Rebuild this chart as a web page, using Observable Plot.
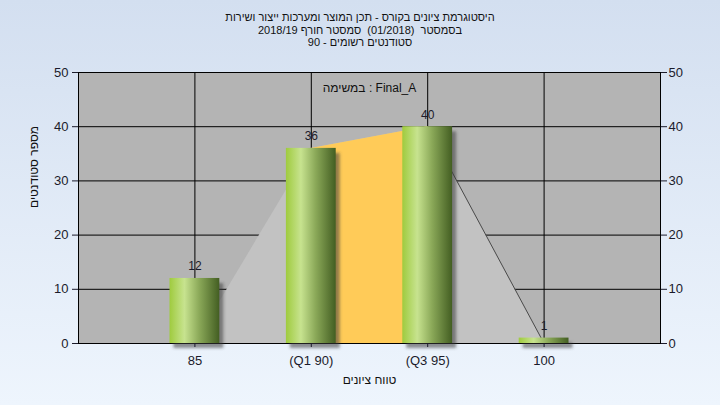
<!DOCTYPE html>
<html>
<head>
<meta charset="utf-8">
<script src="https://cdn.jsdelivr.net/npm/d3@7"></script>
<script src="https://cdn.jsdelivr.net/npm/@observablehq/plot@0.6"></script>
<style>
html, body { margin: 0; padding: 0; }
body {
  width: 720px; height: 405px; overflow: hidden;
  background: linear-gradient(#d3dff0, #eef5fd);
  font-family: "Liberation Sans", Arial, "DejaVu Sans", sans-serif;
}
#title {
  box-sizing: border-box; height: 50px; padding-top: 11px;
  text-align: center; font-size: 11px; line-height: 12.5px; color: #111;
  white-space: pre;
}
#chart svg { display: block; }
</style>
</head>
<body>
<div id="title"></div>
<div id="chart"></div>
<script>
// ---- data ----
const titleLines = [
  "היסטוגרמת ציונים בקורס - תכן המוצר ומערכות ייצור ושירות",
  "בסמסטר  (01/2018)  סמסטר חורף 2018/19",
  "סטודנטים רשומים - 90"
];
const grades = [85, 90, 95, 100];
const gradeLabels = ["85", "(Q1 90)", "(Q3 95)", "100"];
const counts = [12, 36, 40, 1];
const outlineCounts = [0, 36, 40, 0];   // envelope drawn behind the bars
const quartileGrades = [90, 95];        // highlighted interquartile band
const yTicks = [0, 10, 20, 30, 40, 50];
const taskNote = "במשימה : Final_A";
const xTitle = "טווח ציונים";
const yTitle = "מספר סטודנטים";

// ---- tables ----
const bars = grades.map((g, i) => ({grade: g, count: counts[i]}));
const outline = grades.map((g, i) => ({grade: g, count: outlineCounts[i]}));
const band = outline.filter(d => d.grade >= quartileGrades[0] && d.grade <= quartileGrades[1]);
const tail = outline.filter(d => d.grade >= quartileGrades[1]);
const labelOf = new Map(grades.map((g, i) => [g, gradeLabels[i]]));

document.getElementById("title").innerHTML =
  titleLines.map(t => `<div>${t}</div>`).join("");

const hw = 1.07;
const font = "Liberation Sans, Arial, DejaVu Sans, sans-serif";
const ink = "#1b1b2b";

const plot = Plot.plot({
  width: 720, height: 355,
  marginTop: 22, marginBottom: 62, marginLeft: 78, marginRight: 60,
  style: {background: "transparent", fontFamily: font, fontSize: "13px", color: ink, overflow: "visible"},
  x: {type: "linear", domain: [80, 105], axis: null},
  y: {domain: [0, 50], axis: null},
  marks: [
    Plot.frame({fill: "#b4b4b4", stroke: null}),
    Plot.ruleY(yTicks, {stroke: "#000", strokeWidth: 1}),
    Plot.ruleX(grades, {stroke: "#000", strokeWidth: 1}),
    Plot.areaY(outline, {x: "grade", y: "count", fill: "#c2c2c2"}),
    Plot.areaY(band, {x: "grade", y: "count", fill: "#ffcb58"}),
    Plot.line(tail, {x: "grade", y: "count", stroke: "#4a4a4a", strokeWidth: 1}),
    Plot.ruleY([0], {stroke: "#000", strokeWidth: 1}),
    Plot.frame({stroke: "#000", strokeWidth: 1}),
    Plot.rectY(bars, {x1: d => d.grade - hw, x2: d => d.grade + hw, y: "count", fill: "#000001", dx: 4, dy: 5}),
    Plot.rectY(bars, {x1: d => d.grade - hw, x2: d => d.grade + hw, y: "count", fill: "url(#barGrad)"}),
    Plot.text(bars, {x: "grade", y: "count", text: d => String(d.count), dy: -12, fill: ink, fontSize: 12}),
    Plot.axisY({anchor: "left", ticks: yTicks, tickSize: 6, tickPadding: 4, label: null, fill: ink, fontSize: 13}),
    Plot.axisY({anchor: "right", ticks: yTicks, tickSize: 6, tickPadding: 2, label: null, fill: ink, fontSize: 13}),
    Plot.axisX({ticks: grades, tickFormat: d => labelOf.get(d), tickSize: 4, tickPadding: 8, label: null, fill: ink, fontSize: 13}),
    Plot.text([yTitle], {text: d => d, frameAnchor: "left", dx: -44, rotate: -90, fontSize: 12, fill: "#111"}),
    Plot.text([xTitle], {text: d => d, frameAnchor: "bottom", dy: 40, fontSize: 12, fill: "#111"}),
    Plot.text([taskNote], {text: d => d, frameAnchor: "top", dy: 11, fontSize: 12, fill: "#111"})
  ]
});

const svg = d3.select(plot);
const defs = svg.insert("defs", ":first-child");
const lg = defs.append("linearGradient").attr("id", "barGrad")
  .attr("x1", 0).attr("x2", 1).attr("y1", 0).attr("y2", 0);
[[0, "#9fcb3e"], [0.3, "#c7e38f"], [0.6, "#8aa858"], [1, "#435e22"]].forEach(([o, c]) =>
  lg.append("stop").attr("offset", o).attr("stop-color", c));
defs.append("filter").attr("id", "blur").attr("x", "-50%").attr("y", "-50%").attr("width", "200%").attr("height", "200%")
  .append("feGaussianBlur").attr("stdDeviation", 1.6);
svg.selectAll("g").filter(function() { return this.getAttribute("fill") === "#000001"; })
  .attr("fill", "#3a3a3a").attr("fill-opacity", 0.55).attr("filter", "url(#blur)");

document.getElementById("chart").appendChild(plot);
</script>
</body>
</html>
